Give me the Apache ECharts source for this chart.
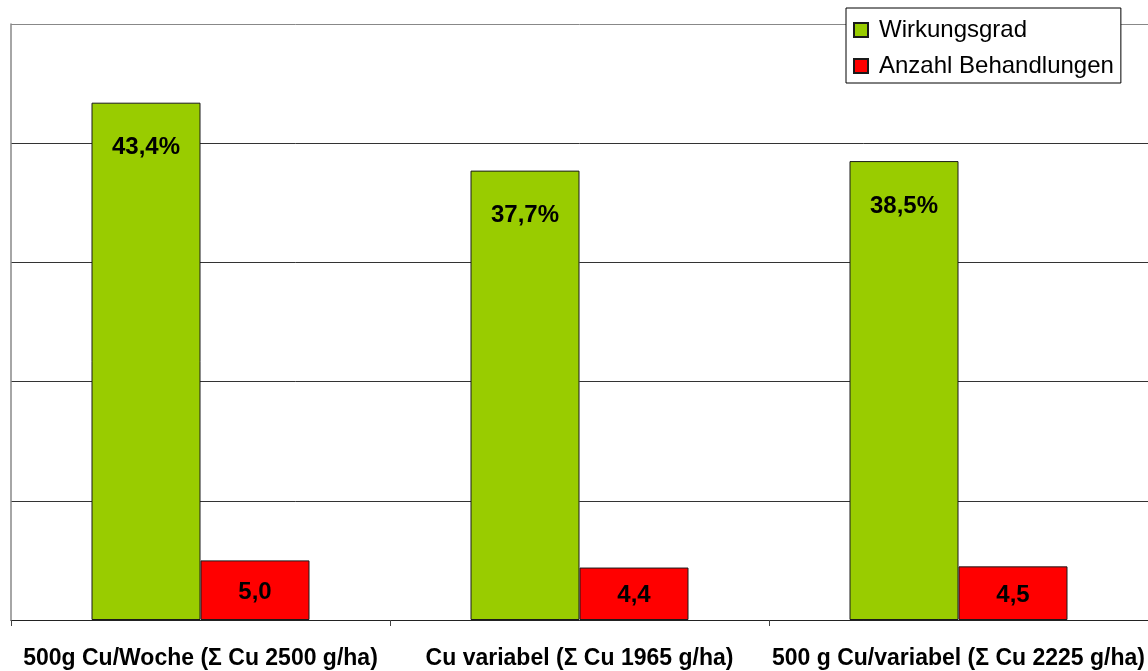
<!DOCTYPE html>
<html>
<head>
<meta charset="utf-8">
<script src="https://cdn.jsdelivr.net/npm/echarts@6/dist/echarts.min.js"></script>
<style>
html,body{margin:0;padding:0;background:#fff;}
#chart{width:1148px;height:671px;}
</style>
</head>
<body>
<div id="chart"></div>
<script>
const categories = [
  '500g Cu/Woche (\u03A3 Cu 2500 g/ha)',
  'Cu variabel (\u03A3 Cu 1965 g/ha)',
  '500 g Cu/variabel (\u03A3 Cu 2225 g/ha)'
];
const wirkungsgrad = [43.4, 37.7, 38.5];
const anzahlBehandlungen = [5.0, 4.4, 4.5];
const seriesNames = ['Wirkungsgrad', 'Anzahl Behandlungen'];

const FONT = '"Liberation Sans", Arial, sans-serif';
const fmt = v => v.toFixed(1).replace('.', ',');

const chart = echarts.init(document.getElementById('chart'), null, {renderer: 'canvas'});
chart.setOption({
  backgroundColor: '#fff',
  animation: false,
  textStyle: {fontFamily: FONT},
  grid: {left: 11, top: 24, right: -3, bottom: 51, containLabel: false},
  legend: {
    orient: 'vertical',
    left: 846,
    top: 8,
    padding: [10, 7, 5, 7],
    itemGap: 12,
    itemWidth: 14,
    itemHeight: 14,
    icon: 'rect',
    backgroundColor: '#fff',
    borderColor: '#000',
    borderWidth: 1,
    textStyle: {fontFamily: FONT, fontSize: 24, color: '#000', padding: [0, 0, 0, 6]},
    data: seriesNames
  },
  xAxis: {
    type: 'category',
    data: categories,
    axisLine: {show: true, lineStyle: {color: '#222', width: 1}},
    axisTick: {show: true, length: 6, alignWithLabel: false, lineStyle: {color: '#444'}},
    axisLabel: {
      interval: 0,
      margin: 27,
      fontFamily: FONT,
      fontSize: 23,
      fontWeight: 'bold',
      color: '#000'
    },
    splitLine: {show: false}
  },
  yAxis: {
    type: 'value',
    min: 0,
    max: 50,
    interval: 10,
    axisLabel: {show: false},
    axisTick: {show: false},
    axisLine: {show: true, lineStyle: {color: '#888', width: 1.5}},
    splitLine: {show: true, lineStyle: {color: ['#333', '#333', '#333', '#333', '#333', '#888'], width: 1}}
  },
  series: [
    {
      name: seriesNames[0],
      type: 'bar',
      data: wirkungsgrad,
      barWidth: 109,
      barGap: '0%',
      itemStyle: {color: '#99CC00', borderColor: '#1a1a1a', borderWidth: 1},
      label: {
        show: true,
        position: 'insideTop',
        distance: 33,
        fontFamily: FONT,
        fontSize: 24,
        fontWeight: 'bold',
        color: '#000',
        formatter: p => fmt(p.value) + '%'
      }
    },
    {
      name: seriesNames[1],
      type: 'bar',
      data: anzahlBehandlungen,
      barWidth: 109,
      barGap: '0%',
      itemStyle: {color: '#FF0000', borderColor: '#1a1a1a', borderWidth: 1},
      label: {
        show: true,
        position: 'inside',
        offset: [0, 2],
        fontFamily: FONT,
        fontSize: 24,
        fontWeight: 'bold',
        color: '#000',
        formatter: p => fmt(p.value)
      }
    }
  ]
});
</script>
</body>
</html>
